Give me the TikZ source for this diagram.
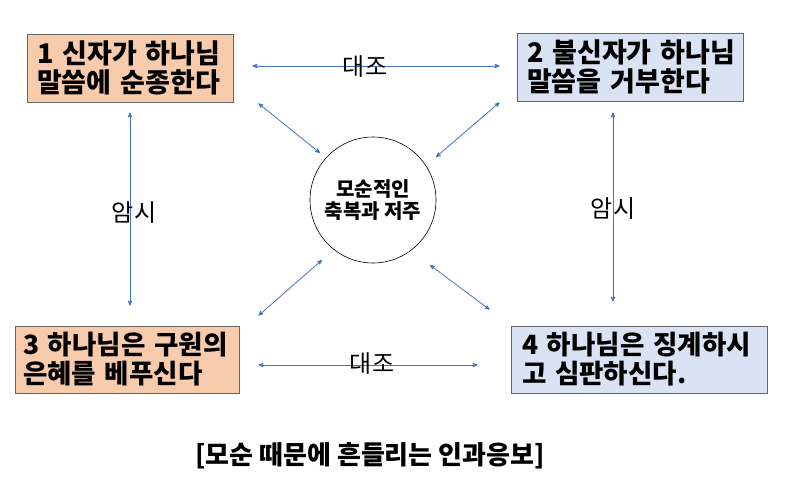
\documentclass[tikz,border=0pt]{standalone}
\usepackage{fontspec}
\setmainfont{Noto Sans CJK KR}
\usetikzlibrary{arrows}

\definecolor{peach}{HTML}{F8CBAD}
\definecolor{paleblue}{HTML}{DAE3F3}
\definecolor{arrowblue}{HTML}{4472C4}

\tikzset{
  statebox/.style={draw=gray!80!black,line width=0.8pt,align=left,inner sep=0pt,
    minimum height=68pt,font=\fontsize{27}{29}\selectfont\bfseries},
  link/.style={<->,>=stealth',draw=arrowblue,line width=0.8pt},
  hint/.style={font=\fontsize{24}{26}\selectfont}
}

\begin{document}
\begin{tikzpicture}[x=1pt,y=-1pt]
\useasboundingbox (0,0) rectangle (786,487);

\node[statebox,fill=peach,minimum width=206pt,text width=186pt] (b1) at (130,68) {1~신자가~하나님\\말씀에~순종한다};
\node[statebox,fill=paleblue,minimum width=226pt,text width=206pt] (b2) at (630,67) {2~불신자가~하나님\\말씀을~거부한다};
\node[statebox,fill=peach,minimum width=224pt,minimum height=67pt,text width=208pt,
  font=\fontsize{26.5}{29}\selectfont\bfseries] (b3) at (127,359.5) {3~하나님은~구원의\\은혜를~베푸신다};
\node[statebox,fill=paleblue,minimum width=256pt,minimum height=67pt,text width=234pt,
  font=\fontsize{26.5}{29}\selectfont\bfseries] (b4) at (639,359.5) {4~하나님은~징계하시\\고~심판하신다.};

\node[draw,circle,minimum size=126pt,line width=0.6pt,align=center,
  font=\fontsize{20}{22}\selectfont\bfseries] (c) at (373,200) {모순적인\\축복과 저주};

% horizontal: contrast
\draw[link,shorten <=19pt,shorten >=17pt] ([yshift=2pt]b1.east) -- ([yshift=2pt]b1.east -| b2.west);
\draw[link,shorten <=19pt,shorten >=33pt] ([yshift=-5.5pt]b3.east) -- ([yshift=-5.5pt]b3.east -| b4.west);
\node[hint] (l1) at (365,67) {대조};
\node[hint] (l2) at (372,364) {대조};

% vertical: hint
\draw[link,shorten <=10pt,shorten >=20pt] (b1.south) -- (b1.south |- b3.north);
\draw[link,shorten <=11pt,shorten >=24pt] ([xshift=-17pt]b2.south) -- ([xshift=-17pt]b2.south |- b4.north);
\node[hint] (l3) at (134,213) {암시};
\node[hint] (l4) at (613,209) {암시};

% diagonals to the circle
\draw[link] ([xshift=25pt,yshift=-1pt]b1.south east) -- ([xshift=-53pt,yshift=47pt]c.center);
\draw[link] ([xshift=-17pt,yshift=-1pt]b2.south west) -- ([xshift=63pt,yshift=43pt]c.center);
\draw[link] ([xshift=19pt,yshift=10pt]b3.north east) -- ([xshift=-51pt,yshift=-60pt]c.center);
\draw[link] ([xshift=-21pt,yshift=16pt]b4.north west) -- ([xshift=57pt,yshift=-65pt]c.center);

\node[font=\fontsize{26}{28}\selectfont\bfseries] (cap) at (370,456) {[모순 때문에 흔들리는 인과응보]};
\end{tikzpicture}
\end{document}
